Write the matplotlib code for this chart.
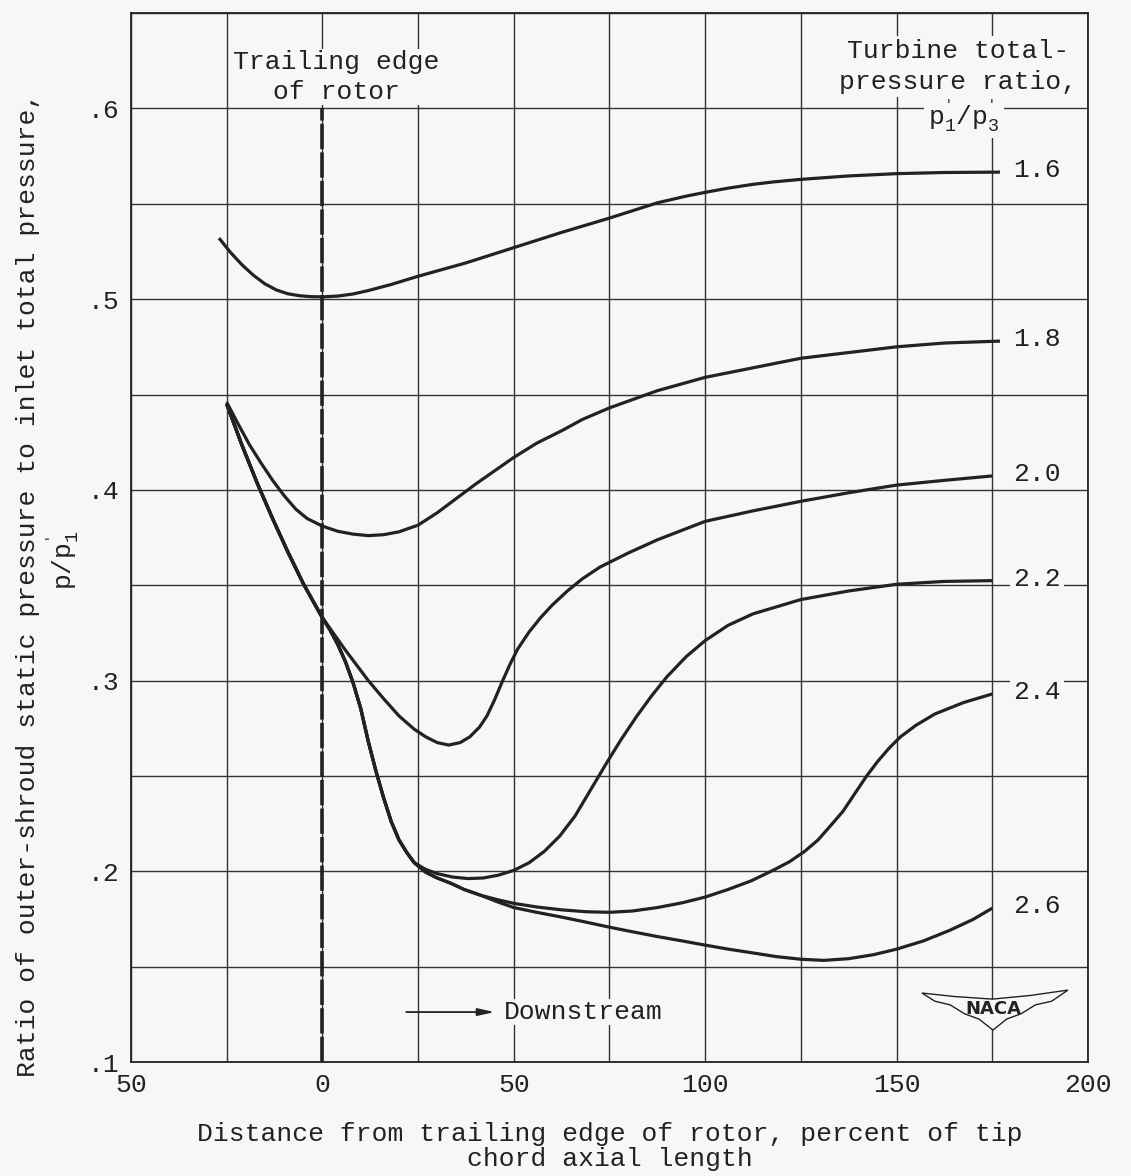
"""Outer-shroud static pressure ratio downstream of rotor trailing edge (NACA figure)."""
import numpy as np
import matplotlib
matplotlib.use("Agg")
import matplotlib.pyplot as plt
from matplotlib.patches import Polygon

plt.rcParams["font.family"] = ["Liberation Mono", "DejaVu Sans Mono"]
plt.rcParams["mathtext.fontset"] = "custom"
plt.rcParams["mathtext.rm"] = "Liberation Mono"
plt.rcParams["mathtext.it"] = "Liberation Mono"
plt.rcParams["mathtext.bf"] = "Liberation Mono:bold"

# ---- data -------------------------------------------------------------------
x16 = [-27, -24, -21, -18, -15, -12, -9, -6, -3, 0, 4, 8, 12, 18, 25, 37.5, 50,
       62.5, 75, 87.5, 95, 100, 106, 112.5, 118, 125, 137.5, 150, 162.5, 177]
y16 = [0.532, 0.5245, 0.518, 0.5125, 0.508, 0.5048, 0.5028, 0.5018, 0.5013, 0.5012,
       0.5016, 0.5027, 0.5045, 0.5077, 0.512, 0.519, 0.527, 0.535, 0.5425, 0.5505,
       0.554, 0.556, 0.5582, 0.5602, 0.5615, 0.5628, 0.5646, 0.5658, 0.5664, 0.5666]

x18 = [-25, -22, -19, -16, -13, -10, -7, -4, 0, 4, 8, 12, 16, 20, 25, 30, 35, 40,
       45, 50, 56, 62.5, 68, 75, 87.5, 100, 112.5, 125, 137.5, 150, 162.5, 177]
y18 = [0.446, 0.4345, 0.4235, 0.414, 0.405, 0.397, 0.390, 0.385, 0.381, 0.3783,
       0.3768, 0.376, 0.3765, 0.378, 0.3815, 0.388, 0.3955, 0.403, 0.410, 0.417,
       0.4245, 0.431, 0.437, 0.443, 0.452, 0.459, 0.464, 0.469, 0.472, 0.475, 0.477,
       0.478]

# 2.0 to 2.6 share one line from -25 to the trailing edge
x20 = [-25, -21, -17, -13, -9, -5, -1, 0, 3, 6, 9, 12, 16, 20, 24, 27, 30, 33, 36,
       38.5, 41, 43, 45, 47, 49, 51, 54, 57, 60, 64, 68, 72.5, 80, 87.5, 100, 112.5,
       125, 137.5, 150, 162.5, 175]
y20 = [0.445, 0.4234, 0.4034, 0.3849, 0.3674, 0.3509, 0.3365, 0.333, 0.3245, 0.316,
       0.308, 0.300, 0.2905, 0.2815, 0.2745, 0.2705, 0.2675, 0.2662, 0.2675, 0.2705,
       0.2755, 0.2815, 0.290, 0.2995, 0.3085, 0.3165, 0.3255, 0.333, 0.3395, 0.347,
       0.3535, 0.3595, 0.367, 0.3738, 0.3835, 0.389, 0.394, 0.3985, 0.4025, 0.405,
       0.4073]

x22 = [-25, -21, -17, -13, -9, -5, -1, 0, 2, 4, 6, 8, 10, 12, 14, 16, 18, 20, 22,
       24, 27, 30, 34, 38, 42, 46, 50, 54, 58, 62, 66, 70, 74, 78, 82, 86, 90, 95,
       100, 106, 112.5, 125, 137.5, 150, 162.5, 175]
y22 = [0.445, 0.4234, 0.4034, 0.3849, 0.3674, 0.3509, 0.3365, 0.333, 0.3265, 0.319,
       0.310, 0.299, 0.2855, 0.268, 0.2525, 0.2385, 0.226, 0.2165, 0.210, 0.2045,
       0.201, 0.1988, 0.197, 0.1962, 0.1965, 0.198, 0.2005, 0.2045, 0.2105, 0.2185,
       0.229, 0.2425, 0.256, 0.269, 0.281, 0.292, 0.302, 0.3125, 0.321, 0.329, 0.335,
       0.3425, 0.347, 0.3505, 0.352, 0.3524]

x24 = [-25, -21, -17, -13, -9, -5, -1, 0, 2, 4, 6, 8, 10, 12, 14, 16, 18, 20, 22,
       24, 27, 30, 33.6, 37, 41.4, 46, 50, 56, 62.5, 69, 75, 81, 87.5, 94, 100, 106,
       112, 117.7, 122, 126, 129.5, 133, 136, 139, 142, 145, 148, 151, 155, 160,
       167.5, 175]
y24 = [0.445, 0.4234, 0.4034, 0.3849, 0.3674, 0.3509, 0.3365, 0.333, 0.3265, 0.319,
       0.310, 0.299, 0.2855, 0.268, 0.2525, 0.2385, 0.226, 0.2165, 0.210, 0.2045,
       0.1995, 0.1965, 0.1937, 0.1905, 0.1874, 0.185, 0.1832, 0.1813, 0.1798, 0.1788,
       0.1785, 0.1792, 0.181, 0.1835, 0.1865, 0.1905, 0.195, 0.2005, 0.205, 0.2105,
       0.2165, 0.2245, 0.2315, 0.2405, 0.2495, 0.2575, 0.2645, 0.2705, 0.2765, 0.2825,
       0.2885, 0.293]

x26 = [-25, -21, -17, -13, -9, -5, -1, 0, 2, 4, 6, 8, 10, 12, 14, 16, 18, 20, 22,
       24, 27, 30, 33.6, 37, 41.4, 46, 50, 56, 62.5, 69, 75, 81, 87.5, 94, 100, 106,
       112.5, 118.5, 125, 131, 137.5, 144, 150, 157, 163.8, 170, 175]
y26 = [0.445, 0.4234, 0.4034, 0.3849, 0.3674, 0.3509, 0.3365, 0.333, 0.3265, 0.319,
       0.310, 0.299, 0.2855, 0.268, 0.2525, 0.2385, 0.226, 0.2165, 0.210, 0.2045,
       0.1995, 0.1965, 0.1937, 0.1905, 0.1874, 0.1838, 0.181, 0.1785, 0.176, 0.1733,
       0.1707, 0.1683, 0.1658, 0.1635, 0.1613, 0.1592, 0.1572, 0.1553, 0.1539, 0.1533,
       0.1542, 0.1563, 0.1592, 0.1635, 0.169, 0.1748, 0.1807]

ratios = ["1.6", "1.8", "2.0", "2.2", "2.4", "2.6"]
xs = [x16, x18, x20, x22, x24, x26]
ys = [y16, y18, y20, y22, y24, y26]

te_x = 0          # trailing edge of rotor
te_top = 0.6

xtick_vals = [-50, 0, 50, 100, 150, 200]
xtick_labels = ["50", "0", "50", "100", "150", "200"]
ytick_vals = [0.1, 0.2, 0.3, 0.4, 0.5, 0.6]
ytick_labels = [".1", ".2", ".3", ".4", ".5", ".6"]

# ---- figure -----------------------------------------------------------------
BG = "#f7f7f7"
INK = "#222222"
FS = 19

fig = plt.figure(figsize=(11.31, 11.76), dpi=100, facecolor=BG)
ax = fig.add_axes([0.1158, 0.0969, 0.8462, 0.892], facecolor=BG)

ax.set_xlim(-50, 200)
ax.set_ylim(0.1, 0.65)
ax.set_xticks(xtick_vals)
ax.set_xticklabels(xtick_labels)
ax.set_xticks(np.arange(-50, 201, 25), minor=True)
ax.set_yticks(ytick_vals)
ax.set_yticklabels(ytick_labels)
ax.set_yticks(np.arange(0.1, 0.651, 0.05), minor=True)
ax.tick_params(which="both", length=0, labelsize=FS, colors=INK, pad=8)
ax.grid(which="both", color="#333333", lw=1.0)
for s in ax.spines.values():
    s.set_color(INK)
    s.set_linewidth(1.3)

for xv, yv in zip(xs, ys):
    ax.plot(xv, yv, color=INK, lw=2.3, solid_capstyle="butt", solid_joinstyle="round",
            zorder=2)

for lab, xv, yv in zip(ratios, xs, ys):
    ax.text(186.7, yv[-1] + 0.001, lab, fontsize=FS, color=INK, ha="center", va="center",
            bbox=dict(facecolor=BG, edgecolor="none", pad=2), zorder=3)

ax.plot([te_x, te_x], [0.1, te_top], color=INK, lw=2.6, dashes=(7, 0.9), zorder=2.5)

ax.text(3.6, 0.6165, "Trailing edge\nof rotor", fontsize=FS, color=INK, ha="center",
        va="center", multialignment="center", linespacing=1.35,
        bbox=dict(facecolor=BG, edgecolor="none", pad=0.5), zorder=3)

ax.text(166.0, 0.622, "Turbine total-\npressure ratio,", fontsize=FS, color=INK,
        ha="center", va="center", multialignment="center", linespacing=1.4,
        bbox=dict(facecolor=BG, edgecolor="none", pad=2), zorder=3)
ax.text(167.5, 0.5965, r"$\mathrm{p}_1^{'}/\mathrm{p}_3^{'}$", fontsize=FS, color=INK,
        ha="center", va="center",
        bbox=dict(facecolor=BG, edgecolor="none", pad=3), zorder=3)

ax.annotate("", xy=(45, 0.1262), xytext=(21.9, 0.1262),
            arrowprops=dict(arrowstyle="-|>,head_length=1.0,head_width=0.22",
                            color=INK, lw=1.3, shrinkA=0, shrinkB=0), zorder=3)
ax.text(47.3, 0.1262, "Downstream", fontsize=FS, color=INK, ha="left", va="center",
        bbox=dict(facecolor=BG, edgecolor="none", pad=1), zorder=3)

# NACA wing logo (axes fraction)
wing = [(0.8265, 0.0658), (0.86, 0.0625), (0.90, 0.060), (0.94, 0.0635), (0.979, 0.0686),
        (0.962, 0.058), (0.945, 0.0545), (0.93, 0.046), (0.915, 0.041), (0.9007, 0.0305),
        (0.886, 0.041), (0.871, 0.046), (0.856, 0.0545), (0.84, 0.058)]
ax.add_patch(Polygon(wing, closed=True, transform=ax.transAxes, facecolor=BG,
                     edgecolor=INK, lw=1.0, zorder=3))
ax.text(0.9007, 0.0505, "NACA", transform=ax.transAxes, fontsize=13, fontweight="bold",
        family="DejaVu Sans", color=INK, ha="center", va="center", zorder=4)

ax.set_xlabel("Distance from trailing edge of rotor, percent of tip\nchord axial length",
              fontsize=FS, color=INK, labelpad=18, linespacing=1.05)
ax.set_ylabel("Ratio of outer-shroud static pressure to inlet total pressure,",
              fontsize=FS, color=INK)
ax.yaxis.set_label_coords(-0.095, 0.455)
ax.text(-0.072, 0.4786, r"$\mathrm{p/p}_1^{'}$", transform=ax.transAxes, fontsize=FS,
        color=INK, rotation=90, ha="center", va="center")

fig.savefig("out.png", dpi=100, facecolor=BG)
print("saved out.png")
